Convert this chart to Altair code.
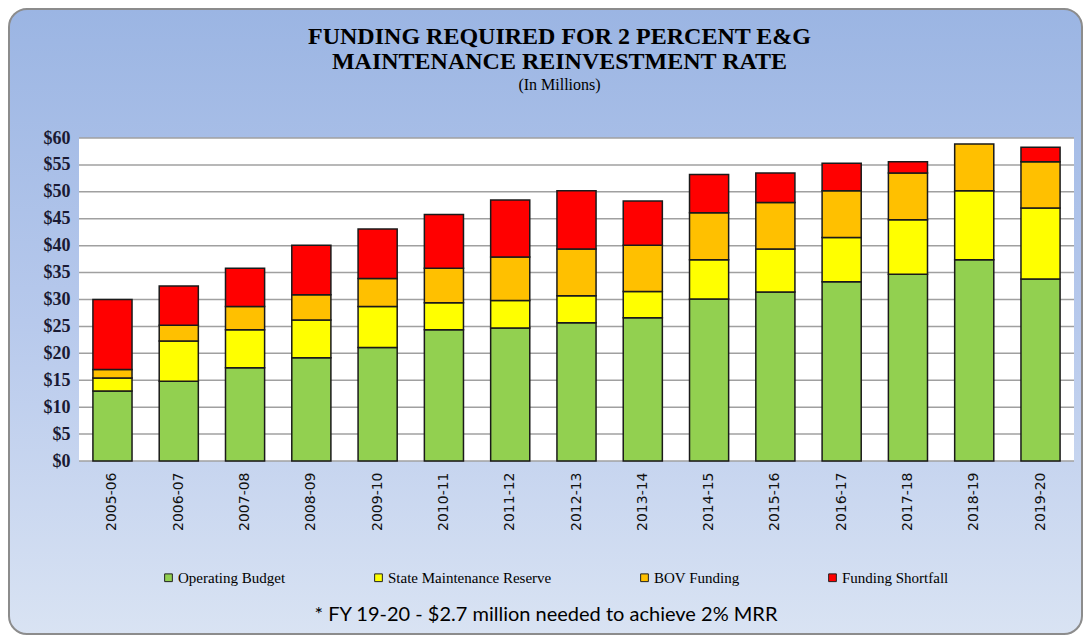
import altair as alt
import pandas as pd

# ---- data ----
years = ["2005-06", "2006-07", "2007-08", "2008-09", "2009-10", "2010-11", "2011-12",
         "2012-13", "2013-14", "2014-15", "2015-16", "2016-17", "2017-18", "2018-19", "2019-20"]
operating = [13.0, 14.8, 17.3, 19.2, 21.1, 24.4, 24.7, 25.7, 26.6, 30.1, 31.4, 33.3, 34.7, 37.4, 33.8]
state_reserve = [2.4, 7.5, 7.1, 7.0, 7.6, 5.0, 5.1, 5.0, 4.9, 7.3, 8.0, 8.2, 10.1, 12.8, 13.2]
bov = [1.6, 2.9, 4.3, 4.7, 5.2, 6.4, 8.1, 8.7, 8.6, 8.7, 8.6, 8.7, 8.7, 8.7, 8.6]
shortfall = [13.0, 7.3, 7.1, 9.2, 9.2, 10.0, 10.6, 10.8, 8.2, 7.1, 5.5, 5.1, 2.1, 0.0, 2.7]
series = ["Operating Budget", "State Maintenance Reserve", "BOV Funding", "Funding Shortfall"]
colors = ["#92d050", "#ffff00", "#ffc000", "#ff0000"]
y_ticks = [0, 5, 10, 15, 20, 25, 30, 35, 40, 45, 50, 55, 60]
title_lines = ["FUNDING REQUIRED FOR 2 PERCENT E&G", "MAINTENANCE REINVESTMENT RATE"]
subtitle = "(In Millions)"
footnote = "* FY 19-20 - $2.7 million needed to achieve 2% MRR"

rows = []
for s_i, (name, vals) in enumerate(zip(series, [operating, state_reserve, bov, shortfall])):
    for yr, v in zip(years, vals):
        if v > 0:
            rows.append({"year": yr, "series": name, "value": v, "order": s_i})
df = pd.DataFrame(rows)

W, H = 995, 323
yscale = alt.Scale(domain=[0, 60], nice=False, zero=True)
yaxis = alt.Axis(values=y_ticks, labelExpr="'$' + datum.value", title=None, grid=False,
                 domain=False, ticks=False, labelFont="Liberation Serif", labelFontSize=18,
                 labelFontWeight="bold", labelColor="#1a1a33", labelPadding=9, zindex=1)

one = pd.DataFrame({"k": [0]})

panel = alt.Chart(one).mark_rect(
    fill=alt.LinearGradient(
        gradient="linear", x1=0, y1=0, x2=0, y2=1,
        stops=[alt.GradientStop(offset=0, color="#9bb5e3"),
               alt.GradientStop(offset=0.5, color="#b7c9ec"),
               alt.GradientStop(offset=1, color="#d9e3f3")]),
    stroke="#8c8c8c", strokeWidth=2, cornerRadius=18,
).encode(x=alt.value(-70), x2=alt.value(1003), y=alt.value(-129), y2=alt.value(496))

plotbg = alt.Chart(one).mark_rect(fill="white").encode(
    x=alt.value(0), x2=alt.value(W), y=alt.value(0), y2=alt.value(H))

grid = alt.Chart(pd.DataFrame({"value": y_ticks})).mark_rule(color="#a0a0a0", strokeWidth=1.5).encode(
    y=alt.Y("value:Q", scale=yscale, axis=yaxis), x=alt.value(0), x2=alt.value(W))

bars = alt.Chart(df).mark_bar(stroke="#1a1a1a", strokeWidth=1.5).encode(
    x=alt.X("year:N", sort=years,
            scale=alt.Scale(paddingInner=0.41, paddingOuter=0.21),
            axis=alt.Axis(title=None, labelAngle=-90, labelFont="DejaVu Sans", labelFontSize=14,
                          labelColor="#111111", domain=False, ticks=False, labelPadding=11,
                          zindex=1)),
    y=alt.Y("value:Q", stack="zero", scale=yscale, axis=yaxis),
    color=alt.Color("series:N", scale=alt.Scale(domain=series, range=colors),
                    legend=alt.Legend(title=None, orient="none", legendX=82, legendY=432,
                                      direction="horizontal", columnPadding=85,
                                      symbolType="square", symbolSize=60,
                                      symbolStrokeColor="#222222", symbolStrokeWidth=1,
                                      labelFont="Liberation Serif", labelFontSize=15,
                                      labelColor="#000000", labelOffset=2, labelLimit=400)),
    order=alt.Order("order:Q"),
)

note = alt.Chart(pd.DataFrame({"t": [footnote]})).mark_text(
    font="Lato", fontSize=20, color="#000000", align="center", baseline="middle"
).encode(text="t:N", x=alt.value(467), y=alt.value(477))

chart = alt.layer(panel, plotbg, grid, bars, note).properties(
    width=W, height=H,
    autosize=alt.AutoSizeParams(type="none"),
    padding={"left": 71, "top": 130, "right": 9, "bottom": 174},
    title=alt.Title(text=title_lines, subtitle=subtitle, font="Liberation Serif", fontSize=24,
                    fontWeight="bold", color="#000000", subtitleFont="Liberation Serif",
                    subtitleFontSize=16, subtitleColor="#000000", anchor="middle", frame="group",
                    offset=0, dy=85, dx=-17, lineHeight=25, subtitlePadding=3),
).configure_view(stroke=None).configure(background="white")

chart.save("out.html", embed_options={"renderer": "svg", "actions": False})
